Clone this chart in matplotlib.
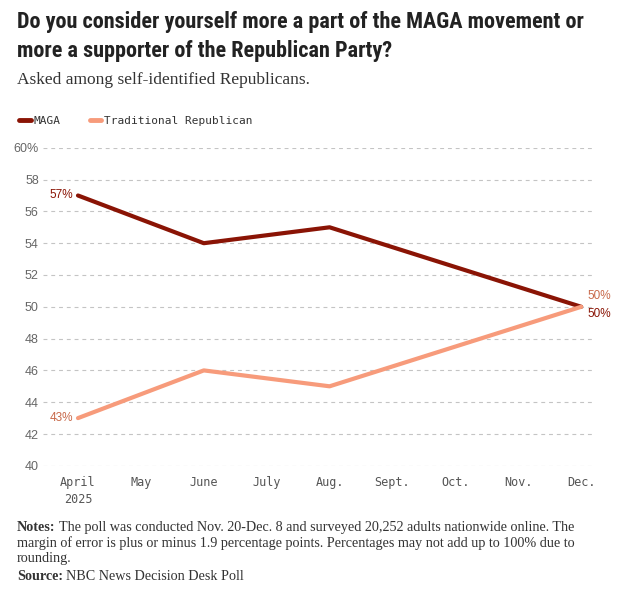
import matplotlib
matplotlib.use("Agg")
import matplotlib.pyplot as plt
from matplotlib.lines import Line2D

months = ["April\n2025", "May", "June", "July", "Aug.", "Sept.", "Oct.", "Nov.", "Dec."]
point_idx = [0, 2, 4, 8]
maga = [57, 54, 55, 50]
trad = [43, 46, 45, 50]
yticks = [40, 42, 44, 46, 48, 50, 52, 54, 56, 58, 60]
ytick_labels = [str(v) for v in yticks[:-1]] + ["60%"]

title_lines = ["Do you consider yourself more a part of the MAGA movement or",
               "more a supporter of the Republican Party?"]
subtitle = "Asked among self-identified Republicans."
notes_lines = ["The poll was conducted Nov. 20-Dec. 8 and surveyed 20,252 adults nationwide online. The",
               "margin of error is plus or minus 1.9 percentage points. Percentages may not add up to 100% due to",
               "rounding."]
source = "NBC News Decision Desk Poll"

C_MAGA = "#8a1405"
C_TRAD = "#f79b7b"
C_MAGA_TXT = "#8a1405"
C_TRAD_TXT = "#c8694a"
TXT = "#333333"

W, H = 628, 590
fig = plt.figure(figsize=(W / 100, H / 100), dpi=100)
ax = fig.add_axes([0.0685, 0.2105, 0.879, 0.539])

ax.plot(point_idx, maga, color=C_MAGA, lw=3, solid_capstyle="round", zorder=3)
ax.plot(point_idx, trad, color=C_TRAD, lw=3, solid_capstyle="round", zorder=3)

ax.set_ylim(40, 60)
ax.set_xlim(-0.556, 8.22)
ax.set_yticks(yticks)
ax.set_yticklabels(ytick_labels, fontsize=9, color="#666666", family="Liberation Sans")
ax.set_xticks(range(len(months)))
ax.set_xticklabels(months, fontsize=8.5, color="#555555", family="DejaVu Sans Mono", linespacing=1.45)
ax.tick_params(axis="x", length=0, pad=7)
ax.tick_params(axis="y", length=0, pad=3)
ax.grid(axis="y", color="#c4c4c4", ls=(0, (3.5, 3.5)), lw=0.8)
for s in ax.spines.values():
    s.set_visible(False)

ax.text(point_idx[0] - 0.08, maga[0], f"{maga[0]}%", ha="right", va="center", fontsize=8.5,
        color=C_MAGA_TXT, family="Liberation Sans")
ax.text(point_idx[0] - 0.08, trad[0], f"{trad[0]}%", ha="right", va="center", fontsize=8.5,
        color=C_TRAD_TXT, family="Liberation Sans")
ax.text(point_idx[-1] + 0.1, maga[-1] - 0.45, f"{maga[-1]}%", ha="left", va="center", fontsize=8.5,
        color=C_MAGA_TXT, family="Liberation Sans")
ax.text(point_idx[-1] + 0.1, trad[-1] + 0.65, f"{trad[-1]}%", ha="left", va="center", fontsize=8.5,
        color=C_TRAD_TXT, family="Liberation Sans")

renderer = fig.canvas.get_renderer()
LEFT = 17 / W

def px_y(y):
    return 1 - y / H

TITLE_FAM = ["Roboto Condensed", "Liberation Sans Narrow", "Roboto", "DejaVu Sans"]
size = 16.0
while True:
    t = fig.text(LEFT, px_y(28), title_lines[0], ha="left", va="baseline", fontsize=size,
                 fontweight="bold", color="#222222", family=TITLE_FAM)
    w = t.get_window_extent(renderer).width
    if w <= 571 or size < 8:
        break
    t.remove()
    size -= 0.25
fig.text(LEFT, px_y(57), title_lines[1], ha="left", va="baseline", fontsize=size,
         fontweight="bold", color="#222222", family=TITLE_FAM)

fig.text(LEFT, px_y(84), subtitle, ha="left", va="baseline", fontsize=12.5,
         color=TXT, family="Liberation Serif")

handles = [Line2D([], [], color=C_MAGA, lw=3.5, solid_capstyle="round"),
           Line2D([], [], color=C_TRAD, lw=3.5, solid_capstyle="round")]
fig.legend(handles, ["MAGA", "Traditional Republican"], loc="center left",
           bbox_to_anchor=(0.015, px_y(121)), ncol=2, frameon=False, handlelength=1.0,
           handletextpad=0.3, columnspacing=2.6, labelcolor="#333333",
           prop={"family": "DejaVu Sans Mono", "size": 8})

def bold_then(x, ybase, bold, rest, fs):
    b = fig.text(x, ybase, bold, ha="left", va="baseline", fontsize=fs, color=TXT,
                 family="Liberation Serif", fontweight="bold")
    bw = b.get_window_extent(renderer).width
    r = fig.text(x + (bw + 3) / W, ybase, rest, ha="left", va="baseline", fontsize=fs,
                 color=TXT, family="Liberation Serif")
    return b, r

nfs = 11.0
while True:
    b, r = bold_then(LEFT, px_y(531), "Notes:", notes_lines[0], nfs)
    right = r.get_window_extent(renderer).x1
    if right <= 578 or nfs < 7:
        break
    b.remove(); r.remove()
    nfs -= 0.1
fig.text(LEFT, px_y(547), notes_lines[1], ha="left", va="baseline", fontsize=nfs, color=TXT,
         family="Liberation Serif")
fig.text(LEFT, px_y(562), notes_lines[2], ha="left", va="baseline", fontsize=nfs, color=TXT,
         family="Liberation Serif")
bold_then(LEFT, px_y(580), "Source:", source, nfs)

fig.savefig("out.png", dpi=100, facecolor="white")
